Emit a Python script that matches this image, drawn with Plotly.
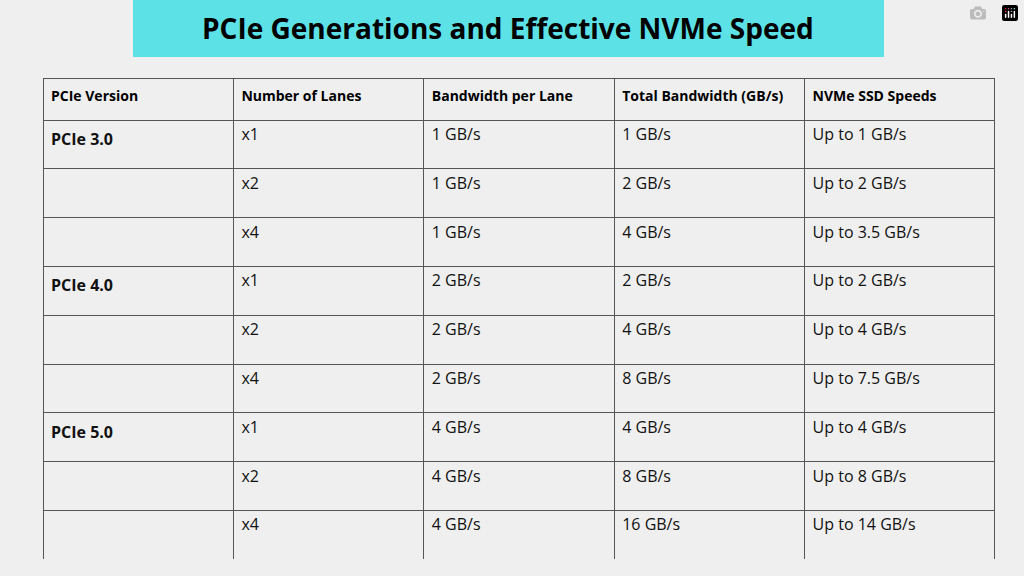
import plotly.graph_objects as go

headers = ["PCIe Version", "Number of Lanes", "Bandwidth per Lane", "Total Bandwidth (GB/s)", "NVMe SSD Speeds"]
versions = ["<b>PCIe 3.0</b>", "", "", "<b>PCIe 4.0</b>", "", "", "<b>PCIe 5.0</b>", "", ""]
lanes = ["x1", "x2", "x4"] * 3
per_lane = ["1 GB/s"] * 3 + ["2 GB/s"] * 3 + ["4 GB/s"] * 3
total = ["1 GB/s", "2 GB/s", "4 GB/s", "2 GB/s", "4 GB/s", "8 GB/s", "4 GB/s", "8 GB/s", "16 GB/s"]
nvme = ["Up to 1 GB/s", "Up to 2 GB/s", "Up to 3.5 GB/s", "Up to 2 GB/s", "Up to 4 GB/s",
        "Up to 7.5 GB/s", "Up to 4 GB/s", "Up to 8 GB/s", "Up to 14 GB/s"]

bg = "#efefef"
fig = go.Figure(go.Table(
    domain=dict(x=[43/1024, 995/1024], y=[1-559/576, 1-78/576]),
    columnwidth=[1]*5,
    header=dict(values=["<b>%s</b>" % h for h in headers], height=42, align="left",
                fill_color=bg, line=dict(color="#555555", width=1),
                font=dict(family="Open Sans", size=14, color="black")),
    cells=dict(values=[versions, lanes, per_lane, total, nvme], height=48.8, align="left",
               fill_color=bg, line=dict(color="#555555", width=1),
               font=dict(family="Open Sans", size=16, color="#111111")),
))
fig.add_shape(type="rect", xref="paper", yref="paper", x0=133/1024, x1=884/1024,
              y0=1-57/576, y1=1, fillcolor="#5ce1e6", line=dict(width=0), layer="below")
fig.add_annotation(xref="paper", yref="paper", x=508/1024, y=1-28/576, showarrow=False,
                   xanchor="center", yanchor="middle",
                   text="<b>PCIe Generations and Effective NVMe Speed</b>",
                   font=dict(family="Open Sans", size=28, color="black"))
fig.update_layout(width=1024, height=576, margin=dict(l=0, r=0, t=0, b=0),
                  paper_bgcolor=bg, plot_bgcolor=bg)
fig.write_html("out.html")

with open("out.html", encoding="utf-8") as f:
    html = f.read()
html = html.replace("<body>", '<body style="margin:0;overflow:hidden">', 1)
with open("out.html", "w", encoding="utf-8") as f:
    f.write(html)
